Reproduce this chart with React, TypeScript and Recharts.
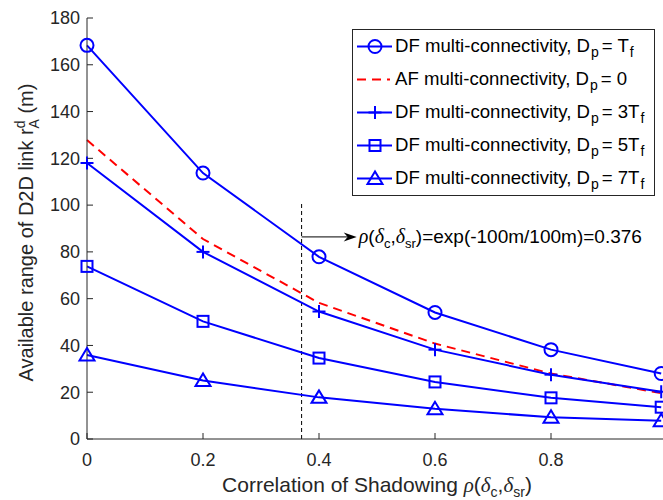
import { LineChart, Line, XAxis, YAxis, Legend, ReferenceLine } from 'recharts';

// values
const xVals = [0, 0.2, 0.4, 0.6, 0.8, 0.99];
const dfTf = [168.3, 113.7, 77.9, 54.1, 38.2, 28];
const afZero = [127.8, 85.5, 58.2, 40.8, 28, 19.6];
const df3Tf = [118, 80, 54.5, 38.2, 27.5, 20.2];
const df5Tf = [73.8, 50.3, 34.6, 24.4, 17.6, 13.6];
const df7Tf = [35.9, 25, 17.8, 12.9, 9.3, 7.8];

const xTicks = [0, 0.2, 0.4, 0.6, 0.8, 1];
const yTicks = [0, 20, 40, 60, 80, 100, 120, 140, 160, 180];
const markX = 0.37;

const data = xVals.map((x, i) => ({
  x,
  dfTf: dfTf[i],
  afZero: afZero[i],
  df3Tf: df3Tf[i],
  df5Tf: df5Tf[i],
  df7Tf: df7Tf[i],
}));

const font = '"Liberation Sans", Arial, Helvetica, sans-serif';
const serif = '"Liberation Serif", "Times New Roman", serif';
const ink = '#262626';
const blue = '#0000ff';
const red = '#ff0000';

type Shape = 'circle' | 'plus' | 'square' | 'triangle' | 'none';

const series: { key: string; mult: string; shape: Shape; color: string; dash?: string }[] = [
  { key: 'dfTf', mult: '', shape: 'circle', color: blue },
  { key: 'afZero', mult: '0', shape: 'none', color: red, dash: '9 6' },
  { key: 'df3Tf', mult: '3', shape: 'plus', color: blue },
  { key: 'df5Tf', mult: '5', shape: 'square', color: blue },
  { key: 'df7Tf', mult: '7', shape: 'triangle', color: blue },
];

function Marker({ shape, cx, cy, color }: { shape: Shape; cx: number; cy: number; color: string }) {
  const s = { fill: 'none', stroke: color, strokeWidth: 2 };
  if (shape === 'circle') return <circle cx={cx} cy={cy} r={6.5} {...s} />;
  if (shape === 'square') return <rect x={cx - 5.5} y={cy - 5.5} width={11} height={11} {...s} />;
  if (shape === 'triangle')
    return <polygon points={`${cx},${cy - 7} ${cx - 7.5},${cy + 5.5} ${cx + 7.5},${cy + 5.5}`} {...s} />;
  if (shape === 'plus')
    return (
      <g {...s}>
        <line x1={cx - 6.5} x2={cx + 6.5} y1={cy} y2={cy} />
        <line x1={cx} x2={cx} y1={cy - 6.5} y2={cy + 6.5} />
      </g>
    );
  return <g />;
}

const makeDot = (shape: Shape, color: string) => (p: any) =>
  <Marker key={p.key ?? `${p.index}`} shape={shape} cx={p.cx} cy={p.cy} color={color} />;

const BottomTick = (p: any) => (
  <g>
    <line x1={p.x} x2={p.x} y1={p.y} y2={p.y - 6} stroke={ink} />
    {p.payload.value < 1 && (
      <text x={p.x} y={p.y + 27} textAnchor="middle" fontSize={18} fontFamily={font} fill={ink}>
        {p.payload.value}
      </text>
    )}
  </g>
);
const TopTick = (p: any) => <line x1={p.x} x2={p.x} y1={p.y} y2={p.y + 6} stroke={ink} />;
const LeftTick = (p: any) => (
  <g>
    <line x1={p.x} x2={p.x + 6} y1={p.y} y2={p.y} stroke={ink} />
    <text x={p.x - 7} y={p.y} dy="0.35em" textAnchor="end" fontSize={18} fontFamily={font} fill={ink}>
      {p.payload.value}
    </text>
  </g>
);
const RightTick = (p: any) => <line x1={p.x} x2={p.x - 6} y1={p.y} y2={p.y} stroke={ink} />;

const XLabel = ({ viewBox }: any) => (
  <text x={viewBox.x + viewBox.width / 2} y={492} textAnchor="middle" fontSize={21} fontFamily={font} fill={ink}>
    Correlation of Shadowing{' '}
    <tspan fontFamily={serif} fontStyle="italic">ρ</tspan>(
    <tspan fontFamily={serif} fontStyle="italic">δ</tspan>
    <tspan fontSize={14} dy={5}>c</tspan>
    <tspan dy={-5}>,</tspan>
    <tspan fontFamily={serif} fontStyle="italic">δ</tspan>
    <tspan fontSize={14} dy={5}>sr</tspan>
    <tspan dy={-5}>)</tspan>
  </text>
);

const YLabel = ({ viewBox }: any) => {
  const cx = 33;
  const cy = viewBox.y + viewBox.height / 2 + 4;
  return (
    <text x={cx} y={cy} transform={`rotate(-90 ${cx} ${cy})`} textAnchor="middle" fontSize={20} fontFamily={font} fill={ink}>
      Available range of D2D link r
      <tspan fontSize={14} dy={-8}>d</tspan>
      <tspan fontSize={14} dx={-8} dy={14}>A</tspan>
      <tspan dy={-6}> (m)</tspan>
    </text>
  );
};

const ArrowNote = (p: any) => {
  const { x1, y1, x2 } = p;
  return (
    <g>
      <line x1={x1} x2={x2 - 8} y1={y1} y2={y1} stroke="#000" strokeWidth={1} />
      <polygon points={`${x2},${y1} ${x2 - 13},${y1 - 4.5} ${x2 - 9},${y1} ${x2 - 13},${y1 + 4.5}`} fill="#000" />
      <text x={x2 + 2} y={y1 + 6} fontSize={19} fontFamily={font} fill="#000">
        <tspan fontFamily={serif} fontStyle="italic" fontSize={20}>ρ</tspan>(
        <tspan fontFamily={serif} fontStyle="italic" fontSize={20}>δ</tspan>
        <tspan fontSize={13} dy={5}>c</tspan>
        <tspan dy={-5}>,</tspan>
        <tspan fontFamily={serif} fontStyle="italic" fontSize={20}>δ</tspan>
        <tspan fontSize={13} dy={5}>sr</tspan>
        <tspan dy={-5}>)=exp(-100m/100m)=0.376</tspan>
      </text>
    </g>
  );
};

const subStyle = {
  fontSize: 14,
  position: 'relative' as const,
  top: 5,
  verticalAlign: 'baseline',
  marginLeft: 1,
  marginRight: 3,
};

const LegendBox = () => (
  <div
    style={{
      border: `1px solid ${ink}`,
      background: '#fff',
      width: 301,
      fontFamily: font,
      fontSize: 18.6,
      color: '#000',
      lineHeight: 1,
    }}
  >
    {series.map((s) => (
      <div key={s.key} style={{ height: 33, display: 'flex', alignItems: 'center' }}>
        <svg width={42} height={33} style={{ flex: 'none' }}>
          {s.dash ? (
            <line x1={4} x2={37} y1={16.5} y2={16.5} stroke={s.color} strokeWidth={2} strokeDasharray="9 6" />
          ) : (
            <line x1={4} x2={39} y1={16.5} y2={16.5} stroke={s.color} strokeWidth={2} />
          )}
          <Marker shape={s.shape} cx={22} cy={16.5} color={s.color} />
        </svg>
        <span style={{ whiteSpace: 'nowrap' }}>
          {s.dash ? 'AF' : 'DF'} multi-connectivity, D<span style={subStyle}>p</span>= {s.mult}
          {s.mult === '0' ? null : (
            <>
              T<span style={subStyle}>f</span>
            </>
          )}
        </span>
      </div>
    ))}
  </div>
);

export default function App() {
  return (
    <div style={{ position: 'absolute', left: 0, top: 0, width: 663, height: 500, overflow: 'hidden', background: '#fff' }}>
      <LineChart width={680} height={500} data={data} margin={{ top: 18, right: 13, bottom: 0, left: 0 }}>
        <XAxis
          dataKey="x"
          type="number"
          domain={[0, 1]}
          ticks={xTicks}
          height={61}
          stroke={ink}
          tickLine={false}
          tickSize={0}
          tickMargin={0}
          tick={BottomTick}
          label={<XLabel />}
        />
        <XAxis xAxisId="top" orientation="top" type="number" domain={[0, 1]} ticks={xTicks} height={0} stroke={ink} tickLine={false} tickSize={0} tickMargin={0} tick={TopTick} />
        <YAxis
          type="number"
          domain={[0, 180]}
          ticks={yTicks}
          width={87}
          stroke={ink}
          tickLine={false}
          tickSize={0}
          tickMargin={0}
          tick={LeftTick}
          label={<YLabel />}
        />
        <YAxis yAxisId="right" orientation="right" type="number" domain={[0, 180]} ticks={yTicks} width={0} stroke={ink} tickLine={false} tickSize={0} tickMargin={0} tick={RightTick} />
        <ReferenceLine
          segment={[{ x: markX, y: 0 }, { x: markX, y: 101 }]}
          stroke="#000"
          strokeWidth={1}
          strokeDasharray="4 3"
        />
        <ReferenceLine segment={[{ x: markX, y: 86.4 }, { x: 0.465, y: 86.4 }]} shape={ArrowNote} />
        {series.map((s) => (
          <Line
            key={s.key}
            dataKey={s.key}
            stroke={s.color}
            strokeWidth={2}
            strokeDasharray={s.dash}
            dot={s.shape === 'none' ? false : makeDot(s.shape, s.color)}
            activeDot={false}
            isAnimationActive={false}
          />
        ))}
        <Legend
          layout="horizontal"
          verticalAlign="middle"
          align="center"
          content={<LegendBox />}
          wrapperStyle={{ left: 352, top: 29, width: 'auto', height: 'auto' }}
        />
      </LineChart>
    </div>
  );
}
